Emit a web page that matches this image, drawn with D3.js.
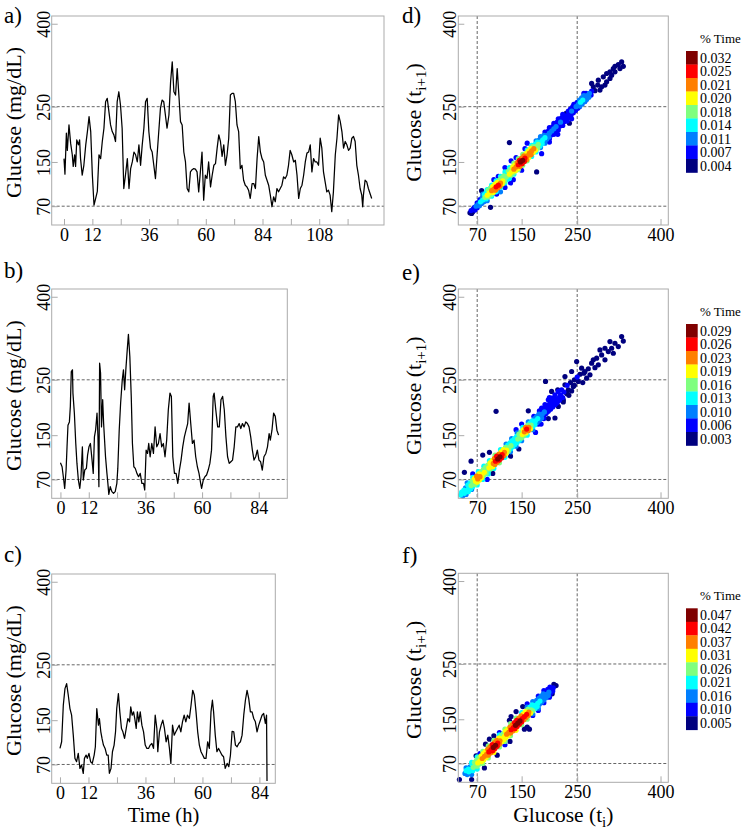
<!DOCTYPE html>
<html><head><meta charset="utf-8">
<script src="https://cdn.jsdelivr.net/npm/d3@7"></script>
<style>
body{margin:0;background:#fff}
svg{display:block}
svg text{font-family:"Liberation Serif","Tinos","Times New Roman",Times,"DejaVu Serif",serif}
</style>
</head><body><svg id="chart" width="750" height="834"></svg>
<script>
// ---------------- DATA ----------------
// Time series: [hour, glucose mg/dL]
const seriesA = [[0,156],[0.4,128],[1.0,202],[1.4,171],[2.1,217],[2.8,184],[3.5,163],[3.9,142],[4.5,163],[4.9,142],[5.4,190],[6.1,181],[6.6,190],[7.0,156],[7.7,126],[8.4,144],[9.2,181],[9.9,205],[10.6,232],[11.3,205],[12.0,126],[12.7,72],[13.4,84],[14.1,97],[14.8,163],[15.5,156],[16.2,187],[16.9,211],[17.6,259],[18.3,265],[19.0,241],[19.7,217],[20.4,205],[21.1,199],[21.8,187],[22.5,259],[23.2,277],[23.9,253],[24.6,211],[25.3,102],[26.0,126],[26.8,156],[27.5,102],[28.2,138],[28.9,150],[29.6,168],[30.3,163],[31.0,150],[31.7,181],[32.4,144],[33.1,181],[33.8,211],[34.5,259],[35.2,265],[35.9,205],[36.6,175],[37.3,168],[38.0,144],[38.7,120],[39.4,163],[40.1,205],[40.8,247],[41.5,262],[42.2,259],[42.9,235],[43.6,211],[44.4,235],[45.1,295],[45.8,331],[46.5,277],[47.2,271],[47.9,319],[48.6,271],[49.3,223],[50.0,217],[50.7,168],[51.4,150],[52.1,102],[52.8,96],[53.5,132],[54.2,136],[54.9,138],[55.6,137],[56.3,132],[57.0,96],[57.7,132],[58.4,168],[59.1,81],[59.8,126],[60.5,120],[61.2,150],[62.0,105],[62.7,126],[63.4,144],[64.1,147],[64.8,175],[65.5,199],[66.2,187],[66.9,160],[67.6,181],[68.3,144],[69.0,163],[69.7,193],[70.4,271],[71.1,274],[71.8,274],[72.5,259],[73.2,217],[73.9,205],[74.6,138],[75.3,144],[76.0,117],[76.7,108],[77.4,105],[78.1,99],[78.8,84],[79.6,111],[80.3,111],[81.0,102],[81.7,156],[82.4,196],[83.1,168],[83.8,156],[84.5,150],[85.2,126],[85.9,117],[86.6,108],[87.3,90],[88.0,69],[88.7,87],[89.4,78],[90.1,102],[90.8,96],[91.5,102],[92.2,108],[92.9,123],[93.6,120],[94.3,126],[95.0,144],[95.7,171],[96.4,163],[97.2,150],[97.9,153],[98.6,126],[99.3,84],[100.0,102],[100.7,108],[101.4,126],[102.1,150],[102.8,166],[103.5,168],[104.2,181],[104.9,132],[105.6,156],[106.3,150],[107.0,150],[107.7,144],[108.4,193],[109.1,175],[109.8,132],[110.5,114],[111.2,96],[111.9,99],[112.6,90],[113.3,60],[114.0,96],[114.8,163],[115.5,193],[116.2,235],[116.9,223],[117.6,205],[118.3,175],[119.0,187],[119.7,181],[120.4,171],[121.1,175],[121.8,193],[122.5,196],[123.2,187],[123.9,144],[124.6,126],[125.3,102],[126.0,90],[126.4,69],[126.7,90],[127.4,117],[128.1,114],[128.8,102],[129.5,93],[130.2,84]];

const seriesB = [[0,100],[0.7,93],[1.4,69],[1.8,54],[2.4,87],[2.8,129],[3.2,168],[3.8,174],[4.2,202],[4.6,265],[5.1,268],[5.3,226],[5.9,190],[6.5,135],[7.0,99],[7.6,69],[8.2,54],[8.7,74],[9.3,129],[9.7,69],[10.3,87],[11.0,90],[11.5,114],[12.1,129],[12.7,135],[13.4,105],[13.9,81],[14.4,147],[14.9,159],[15.5,190],[15.9,147],[16.3,57],[16.6,280],[17.0,262],[17.4,165],[17.9,214],[18.3,171],[18.7,141],[19.1,111],[19.7,81],[20.1,63],[20.5,43],[21.1,57],[21.8,48],[22.5,45],[23.2,48],[23.9,63],[24.3,90],[24.9,159],[25.5,208],[26.2,250],[26.7,268],[27.2,232],[27.7,268],[28.3,304],[28.8,332],[29.4,292],[30.0,220],[30.5,135],[31.1,93],[31.7,90],[32.4,81],[33.1,75],[33.8,81],[34.5,63],[35.2,63],[35.7,51],[36.3,123],[36.9,117],[37.4,135],[38.0,111],[38.7,135],[39.4,117],[40.1,165],[40.8,129],[41.5,135],[42.2,153],[42.9,129],[43.6,135],[44.3,111],[45.0,141],[45.7,196],[46.4,226],[47.0,220],[47.6,111],[48.3,81],[49.0,81],[49.7,63],[50.4,87],[51.1,105],[51.8,129],[52.5,147],[53.2,159],[53.9,171],[54.5,208],[55.2,171],[55.9,135],[56.6,141],[57.3,111],[58.0,93],[58.7,81],[59.4,63],[59.8,54],[60.5,69],[61.2,75],[61.9,78],[62.6,87],[63.3,99],[64.0,123],[64.7,220],[65.1,226],[65.8,196],[66.6,165],[67.3,165],[68.0,214],[68.7,220],[69.4,196],[70.1,147],[70.8,111],[71.5,99],[72.2,102],[72.9,105],[73.6,129],[74.3,165],[75.0,165],[75.7,171],[76.4,162],[77.1,171],[77.8,165],[78.5,174],[79.2,171],[79.9,165],[80.6,147],[81.3,123],[82.0,105],[82.7,111],[83.4,123],[84.1,105],[84.8,102],[85.5,87],[86.2,111],[87.0,117],[87.7,129],[88.4,153],[88.9,141],[89.6,159],[90.3,190],[91.0,184],[91.7,159],[92.4,150]];

const seriesC = [[0,99],[0.7,111],[1.4,177],[2.1,207],[2.8,216],[3.5,195],[4.2,171],[4.9,159],[5.6,123],[6.3,81],[7.0,75],[7.7,90],[8.4,63],[9.1,69],[9.8,54],[10.3,81],[11.0,87],[11.5,81],[12.2,90],[12.9,75],[13.6,72],[14.4,87],[14.9,102],[15.5,171],[16.2,141],[16.6,153],[17.2,129],[17.7,117],[18.3,105],[19.0,99],[19.7,87],[20.3,87],[20.8,54],[21.5,63],[22.1,93],[22.8,105],[23.4,129],[23.9,171],[24.6,198],[25.2,165],[25.9,135],[26.5,129],[27.2,117],[27.9,135],[28.6,153],[29.3,147],[29.8,174],[30.4,159],[31.0,165],[31.5,153],[32.1,135],[32.6,165],[33.2,147],[33.8,165],[34.5,141],[35.2,129],[35.9,105],[36.6,99],[37.3,99],[38.0,105],[38.7,108],[39.4,99],[40.1,159],[40.8,135],[41.2,93],[41.9,129],[42.6,141],[43.3,150],[44.0,135],[44.7,111],[45.4,123],[46.1,99],[46.7,72],[47.4,141],[48.1,123],[48.8,129],[49.5,135],[50.2,141],[50.9,129],[51.6,147],[52.3,159],[53.0,147],[53.7,159],[54.5,153],[55.2,177],[55.9,204],[56.6,195],[57.3,165],[58.0,129],[58.7,105],[59.4,93],[60.1,87],[60.8,81],[61.5,81],[62.2,111],[62.9,99],[63.6,165],[64.2,186],[64.7,165],[65.4,123],[66.1,93],[66.8,99],[67.5,93],[68.2,87],[68.9,84],[69.6,63],[70.4,72],[71.1,66],[71.8,87],[72.5,130],[73.2,129],[73.9,105],[74.6,102],[75.3,108],[76.0,111],[76.7,123],[77.4,159],[78.1,186],[78.8,204],[79.5,189],[80.2,165],[80.9,165],[81.6,153],[82.3,147],[83.0,129],[83.7,141],[84.4,150],[85.1,159],[85.8,162],[86.5,144],[87.0,159],[87.2,40]];

// Poincaré scatter points: [glucose(t_i), glucose(t_i+1), density level 0..8]
const scatterD = [[57,58,0],[60,57,0],[59,62,1],[62,60,0],[63,65,1],[66,63,1],[65,68,1],[68,70,2],[70,67,1],[72,74,2],[74,71,2],[70,76,1],[76,78,3],[78,75,2],[75,82,1],[80,81,3],[82,78,2],[79,86,2],[84,86,4],[86,83,3],[83,91,3],[88,90,5],[90,87,4],[86,95,3],[92,94,5],[95,91,4],[90,99,4],[96,98,6],[99,95,5],[94,103,4],[100,101,6],[103,99,6],[98,106,5],[104,105,7],[107,103,6],[102,110,5],[108,108,7],[111,106,6],[106,113,5],[112,112,6],[115,110,5],[110,117,4],[116,116,5],[119,114,4],[114,121,4],[120,120,4],[123,118,3],[118,125,4],[124,124,4],[127,122,3],[122,129,3],[128,128,5],[131,126,4],[126,133,4],[132,132,5],[135,130,4],[130,137,4],[136,137,6],[139,134,5],[134,141,5],[140,141,6],[143,138,5],[138,145,5],[144,145,7],[147,142,6],[142,149,6],[148,150,8],[151,147,7],[146,153,7],[152,153,8],[155,151,7],[150,157,6],[156,157,7],[159,154,6],[154,161,6],[160,161,6],[163,158,5],[158,165,5],[164,166,6],[167,163,6],[162,170,5],[168,170,6],[171,167,5],[166,174,5],[172,174,6],[175,171,5],[170,178,4],[176,178,4],[179,175,4],[174,182,3],[180,182,4],[183,179,3],[178,186,3],[184,186,3],[187,183,3],[182,190,2],[188,190,3],[191,187,2],[186,194,2],[192,194,3],[195,191,2],[190,198,2],[196,198,2],[199,195,2],[194,202,1],[200,202,2],[203,199,1],[198,206,1],[204,206,2],[207,203,1],[202,210,1],[208,210,2],[211,207,1],[206,214,1],[212,214,2],[215,211,1],[210,218,1],[216,218,1],[219,215,1],[214,222,1],[220,222,2],[223,219,1],[218,226,1],[224,226,1],[227,223,1],[222,230,1],[228,230,1],[231,227,0],[226,234,1],[232,234,1],[235,231,1],[230,238,0],[236,238,1],[239,235,1],[234,242,1],[240,242,2],[243,239,1],[238,246,1],[244,246,1],[247,243,1],[242,250,1],[248,250,2],[251,247,1],[246,254,1],[252,254,2],[255,251,2],[250,258,1],[256,258,3],[259,255,2],[254,262,2],[260,262,3],[263,259,2],[258,266,2],[264,266,2],[267,263,2],[262,270,2],[268,270,2],[271,267,2],[266,274,1],[272,274,2],[275,271,1],[276,278,1],[279,286,0],[282,279,0],[276,292,0],[288,298,0],[294,286,0],[300,289,0],[297,304,0],[303,310,0],[309,313,0],[315,319,0],[318,323,0],[324,326,0],[330,331,0],[333,323,0],[327,319,0],[318,313,0],[312,307,0],[309,301,0],[303,295,0],[291,280,0],[287,289,0],[128,185,0],[177,132,0],[94,68,0],[78,98,0],[131,152,1],[160,184,1],[120,140,1],[135,118,1],[200,186,1],[240,228,1],[236,220,0],[215,200,1],[186,165,1],[150,135,1],[120,104,1],[130,112,1],[105,92,1],[112,96,2],[100,118,1],[108,124,1],[140,158,1],[156,174,1],
[88,80,2],[96,88,3],[104,96,3],[112,104,3],[120,112,3],[128,120,3],[136,128,3],[144,136,4],[152,144,4],[160,152,4],[168,160,3],[176,168,3],[184,176,2],[192,184,2],[200,192,1],[208,200,1],[216,208,1],[224,216,1],[232,224,1],[80,92,2],[88,100,3],[96,108,3],[104,116,3],[112,124,3],[120,132,3],[128,140,3],[136,148,4],[144,156,4],[152,164,4],[160,172,3],[168,180,3],[176,188,2],[184,196,2],[192,204,1],[200,212,1],[208,220,1],[216,228,1],[224,236,1],[244,254,1],[254,250,1],[264,260,1],[262,274,1]];

const scatterE = [[40,42,3],[44,40,2],[42,47,3],[47,45,3],[50,43,2],[46,51,3],[51,50,3],[54,48,3],[49,55,2],[55,55,3],[58,53,3],[53,60,3],[59,59,4],[62,57,3],[57,64,3],[63,63,4],[66,61,4],[61,68,4],[67,67,5],[70,65,5],[65,72,5],[71,71,6],[74,69,5],[69,76,6],[75,75,6],[78,73,5],[73,80,5],[79,79,5],[82,77,4],[77,84,4],[83,83,5],[86,81,4],[81,88,4],[87,87,4],[90,85,3],[85,92,4],[91,91,5],[94,89,4],[89,96,4],[95,95,5],[98,93,5],[93,100,5],[99,99,6],[102,97,6],[97,104,5],[103,103,7],[106,101,6],[101,108,6],[107,107,8],[110,105,7],[105,112,7],[111,111,8],[114,109,7],[109,116,6],[115,115,7],[118,113,6],[113,120,5],[119,119,6],[122,117,5],[117,124,5],[123,123,5],[126,121,4],[121,128,4],[127,127,4],[130,125,3],[125,132,3],[131,131,4],[134,129,3],[129,136,3],[135,135,3],[138,133,3],[133,140,3],[139,139,3],[142,137,3],[137,144,3],[143,143,4],[146,141,3],[141,148,3],[147,147,4],[150,145,4],[145,152,4],[151,151,5],[154,149,4],[149,156,4],[155,156,6],[158,154,5],[153,160,5],[159,161,7],[162,158,6],[157,164,6],[163,164,6],[166,161,5],[161,168,4],[167,168,4],[170,165,3],[165,172,3],[171,172,3],[174,169,3],[169,176,3],[175,176,3],[178,173,2],[173,180,2],[179,180,3],[182,177,2],[177,184,2],[183,184,2],[186,181,2],[181,188,2],[187,188,2],[190,185,1],[185,192,1],[191,192,2],[194,189,1],[189,196,1],[195,196,1],[198,193,1],[193,200,1],[199,200,1],[202,197,1],[197,204,1],[203,204,1],[206,201,1],[201,208,1],[207,208,1],[210,205,1],[205,212,1],[211,212,1],[214,209,1],[209,216,1],[215,216,1],[218,213,1],[220,222,1],[224,218,1],[226,228,1],[228,256,0],[240,265,0],[249,283,0],[258,271,0],[264,265,0],[267,253,0],[273,259,0],[252,247,0],[243,238,0],[234,232,0],[276,280,0],[279,286,0],[285,289,0],[288,277,0],[294,295,0],[300,286,0],[306,301,0],[312,307,0],[315,298,0],[318,316,0],[324,310,0],[330,328,0],[333,320,0],[300,307,0],[309,319,0],[291,304,0],[255,260,0],[245,250,0],[260,245,0],[238,245,0],[232,240,1],[250,255,1],[262,262,0],[270,270,0],[282,272,0],[232,225,0],[240,230,0],[186,199,1],[192,205,1],[198,214,1],[204,217,1],[210,223,1],[216,229,1],[222,232,1],[228,241,0],[219,220,1],[225,214,0],[231,226,0],[207,205,1],[213,208,1],[47,83,0],[59,103,0],[80,114,0],[92,119,0],[104,193,0],[193,247,0],[204,229,0],[162,194,0],[210,181,0],[216,202,0],[98,81,0],[130,112,0],[145,125,0],[88,70,1],[62,80,1],[140,160,1],[150,170,1],[175,155,1],[185,170,1],[198,180,0],
[60,52,2],[70,60,3],[80,70,3],[90,80,3],[100,90,3],[110,100,4],[120,110,3],[130,120,2],[140,130,2],[150,140,2],[160,150,3],[170,160,2],[180,170,1],[190,180,1],[52,64,2],[62,74,3],[72,84,3],[82,94,3],[92,104,3],[102,114,4],[112,124,3],[122,134,2],[132,144,2],[142,154,2],[152,164,3],[162,174,2],[172,184,1],[182,194,1],[200,218,1],[215,232,0],[225,210,0],[235,222,0],[245,240,0]];

const scatterF = [[48,52,2],[52,50,2],[50,57,3],[55,55,3],[58,53,2],[54,60,3],[59,59,3],[62,57,3],[57,64,2],[63,63,4],[66,61,3],[61,68,3],[67,67,4],[70,65,4],[65,72,4],[71,71,5],[74,69,4],[69,76,4],[75,75,5],[78,73,5],[73,80,4],[79,79,6],[82,77,5],[77,84,5],[83,83,6],[86,81,5],[81,88,5],[87,87,6],[90,85,6],[85,92,5],[91,91,7],[94,89,6],[89,96,6],[95,95,7],[98,93,7],[93,100,6],[99,99,8],[102,97,7],[97,104,7],[103,103,8],[106,101,7],[101,108,6],[107,107,7],[110,105,6],[105,112,6],[111,111,6],[114,109,5],[109,116,5],[115,115,5],[118,113,5],[113,120,4],[119,119,5],[122,117,5],[117,124,4],[123,123,6],[126,121,5],[121,128,5],[127,127,6],[130,125,6],[125,132,5],[131,131,7],[134,129,6],[129,136,6],[135,135,7],[138,133,7],[133,140,6],[139,139,8],[142,137,7],[137,144,7],[143,143,8],[146,141,7],[141,148,7],[147,147,8],[150,145,7],[145,152,6],[151,151,7],[154,149,6],[149,156,6],[155,155,7],[158,153,6],[153,160,5],[159,159,7],[162,157,6],[157,164,5],[163,163,6],[166,161,5],[161,168,4],[167,167,4],[170,165,4],[165,172,3],[171,171,3],[174,169,3],[169,176,3],[175,175,3],[178,173,3],[173,180,2],[179,179,3],[182,177,2],[177,184,2],[183,183,3],[186,181,2],[181,188,2],[187,187,2],[190,185,2],[185,192,2],[191,191,2],[194,189,2],[189,196,2],[195,195,2],[198,193,2],[193,200,1],[199,199,2],[202,197,1],[197,204,1],[203,203,1],[206,201,1],[201,208,1],[207,207,1],[208,213,0],[212,211,0],[205,196,0],[38,41,0],[60,41,0],[83,62,0],[106,85,0],[129,110,0],[155,132,0],[164,132,0],[160,136,0],[92,114,0],[85,105,0],[100,120,0],[110,126,1],[128,148,0],[131,155,0],[140,164,0],[152,173,0],[160,178,1],[170,157,1],[180,166,1],[120,104,1],[75,88,1],[68,84,0],
[60,50,2],[70,60,3],[80,70,4],[90,80,4],[100,90,5],[110,100,4],[120,110,4],[130,120,4],[140,130,5],[150,140,4],[160,150,4],[170,160,2],[180,170,2],[190,180,1],[200,190,1],[50,62,2],[60,72,3],[70,82,3],[80,92,4],[90,102,4],[100,112,4],[110,122,3],[120,132,4],[130,142,4],[140,152,4],[150,162,3],[160,172,2],[170,182,2],[180,192,1],[190,202,1]];

// Legend labels (% Time), top to bottom
const legendD = ["0.032","0.025","0.021","0.020","0.018","0.014","0.011","0.007","0.004"];
const legendE = ["0.029","0.026","0.023","0.019","0.016","0.013","0.010","0.006","0.003"];
const legendF = ["0.047","0.042","0.037","0.031","0.026","0.021","0.016","0.010","0.005"];

// Ticks
const glucoseTicks = [70,150,250,400];
const refLevels = [70,250];
const hourTicksA = [0,12,24,36,48,60,72,84,96,108,120];
const hourTicksBC = [0,12,24,36,48,60,72,84];
const hourLabels = [0,12,36,60,84,108];
const glucoseLim = [50,400];

// ---------------- DRAWING ----------------
const FONT = '"Liberation Serif","Tinos","Times New Roman",Times,"DejaVu Serif",serif';
const AXIS_GRAY = '#ababab';
const DASH_COL = '#555';
const jet9 = ["#00007F","#0000FF","#007FFF","#00FFFF","#7FFF7F","#FFFF00","#FF7F00","#FF0000","#7F0000"];
const svg = d3.select('#chart');
svg.append('rect').attr('width',750).attr('height',834).attr('fill','#fff');

function padded(lo, hi){ const e=(hi-lo)*0.04; return [lo-e, hi+e]; }
const gLim = padded(glucoseLim[0], glucoseLim[1]);

function txt(sel, size){ return sel.style('font-family', FONT).style('font-size', size + 'px'); }

function axes(g, x, y, box, xTickVals, xLabelVals){
  const ax = g.append('g').attr('transform',`translate(0,${box.y1})`)
    .call(d3.axisBottom(x).tickValues(xTickVals).tickSize(-6).tickPadding(3)
      .tickFormat(d => xLabelVals.includes(d) ? String(d) : ''));
  const ay = g.append('g').attr('transform',`translate(${box.x0},0)`)
    .call(d3.axisLeft(y).tickValues(glucoseTicks).tickSize(-6).tickFormat(String));
  [ax, ay].forEach(a => {
    a.select('.domain').remove();
    a.attr('font-family', null).attr('font-size', null);
    a.selectAll('line').attr('stroke', AXIS_GRAY);
    txt(a.selectAll('text'), 18).attr('fill', '#000');
  });
  ay.selectAll('text').attr('x',0).attr('dy',null).attr('text-anchor','middle')
    .attr('transform','translate(-2,0) rotate(-90)');
}
function frame(g, box){
  g.append('rect').attr('x',box.x0).attr('y',box.y0).attr('width',box.x1-box.x0).attr('height',box.y1-box.y0)
   .attr('fill','none').attr('stroke',AXIS_GRAY).attr('stroke-width',1);
}
function dashH(g, y, box){
  refLevels.forEach(v => g.append('line').attr('x1',box.x0).attr('x2',box.x1).attr('y1',y(v)).attr('y2',y(v))
    .attr('stroke',DASH_COL).attr('stroke-width',0.9).attr('stroke-dasharray','3,2'));
}
function tag(t, x, y){
  txt(svg.append('text').attr('x',x).attr('y',y), 23).text(t);
}
function yTitle(parts, x, cy){
  const t = txt(svg.append('text').attr('transform',`translate(${x},${cy}) rotate(-90)`)
    .attr('text-anchor','middle'), 22);
  parts.forEach(p => {
    const s = t.append('tspan').text(p.t);
    if (p.sub) s.style('font-size','15px').attr('dy', p.dy);
    else if (p.dy) s.attr('dy', p.dy);
  });
  return t;
}

function tsPanel(series, box, hourTicks, label, labelY, xTitle){
  const g = svg.append('g');
  const hMax = d3.max(series, d => d[0]);
  const x = d3.scaleLinear().domain(padded(0, hMax)).range([box.x0, box.x1]);
  const y = d3.scaleLinear().domain(gLim).range([box.y1, box.y0]);
  dashH(g, y, box);
  g.append('path').datum(series)
    .attr('d', d3.line().x(d => x(d[0])).y(d => y(d[1])))
    .attr('fill','none').attr('stroke','#000').attr('stroke-width',1.25).attr('stroke-linejoin','round');
  frame(g, box);
  axes(g, x, y, box, hourTicks, hourLabels);
  tag(label, 4, labelY);
  yTitle([{t:'Glucose (mg/dL)'}], 21, (box.y0+box.y1)/2 + 2);
  if (xTitle) txt(svg.append('text').attr('x',(box.x0+box.x1)/2).attr('y',822).attr('text-anchor','middle'), 20.5).text('Time (h)');
}

function scatterPanel(points, legendLabels, box, label, labelY, xTitle){
  const g = svg.append('g');
  const x = d3.scaleLinear().domain(gLim).range([box.x0, box.x1]);
  const y = d3.scaleLinear().domain(gLim).range([box.y1, box.y0]);
  refLevels.forEach(v => g.append('line').attr('x1',x(v)).attr('x2',x(v)).attr('y1',box.y0).attr('y2',box.y1)
    .attr('stroke',DASH_COL).attr('stroke-width',0.9).attr('stroke-dasharray','3,2'));
  dashH(g, y, box);
  const pts = points.slice().sort((a,b) => a[2]-b[2]);
  g.append('g').selectAll('circle').data(pts).join('circle')
    .attr('cx', d => x(d[0])).attr('cy', d => y(d[1])).attr('r', 2.6)
    .attr('fill', d => jet9[d[2]]);
  frame(g, box);
  axes(g, x, y, box, glucoseTicks, glucoseTicks);
  tag(label, 402, labelY);
  yTitle([{t:'Glucose (t'},{t:'i+1',sub:true,dy:5},{t:')',dy:-5}], 421, (box.y0+box.y1)/2 + 2);
  if (xTitle){
    const t = txt(svg.append('text').attr('x',(box.x0+box.x1)/2).attr('y',822).attr('text-anchor','middle'), 21.5);
    t.append('tspan').text('Glucose (t');
    t.append('tspan').style('font-size','15px').attr('dy',5).text('i');
    t.append('tspan').attr('dy',-5).text(')');
  }
  // legend
  const lg = svg.append('g');
  txt(lg.append('text').attr('x',700).attr('y',box.y0+26.5), 13).text('% Time');
  const top = box.y0 + 35, bh = 13.5;
  const colors = jet9.slice().reverse();
  const band = d3.scaleBand().domain(d3.range(legendLabels.length)).range([top, top + bh*legendLabels.length]).padding(0);
  lg.selectAll('rect.c').data(legendLabels).join('rect').attr('class','c')
    .attr('x',686).attr('width',11.7).attr('y',(d,i)=>band(i)).attr('height',band.bandwidth()+0.3)
    .attr('fill',(d,i)=>colors[i]);
  txt(lg.selectAll('text.l').data(legendLabels).join('text').attr('class','l')
    .attr('x',700).attr('y',(d,i)=>band(i)+band.bandwidth()/2).attr('dy','0.35em'), 14).text(d=>d);
}

tsPanel(seriesA, {x0:51.7,x1:384,y0:16,y1:225}, hourTicksA, 'a)', 23, false);
tsPanel(seriesB, {x0:51.7,x1:287.3,y0:289,y1:498.3}, hourTicksBC, 'b)', 278, false);
tsPanel(seriesC, {x0:51.7,x1:275.3,y0:574,y1:783.3}, hourTicksBC, 'c)', 562, true);

scatterPanel(scatterD, legendD, {x0:458.3,x1:668.3,y0:16,y1:225}, 'd)', 23, false);
scatterPanel(scatterE, legendE, {x0:458.3,x1:668.3,y0:289,y1:498.3}, 'e)', 280, false);
scatterPanel(scatterF, legendF, {x0:458.3,x1:668.3,y0:573.3,y1:782.3}, 'f)', 563, true);
</script></body></html>
